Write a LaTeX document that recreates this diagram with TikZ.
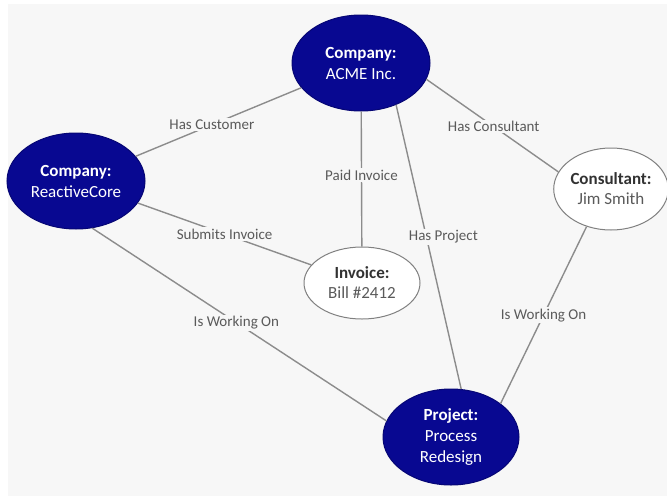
\documentclass[tikz,border=0pt]{standalone}
\usepackage{fontspec}
\setmainfont{Carlito}
\usetikzlibrary{shapes.geometric}
\definecolor{navyfill}{RGB}{8,8,145}
\definecolor{bgcol}{RGB}{247,247,247}
\definecolor{linecol}{RGB}{140,140,140}
\definecolor{lblcol}{RGB}{90,90,90}
\definecolor{headcol}{RGB}{50,50,50}

\begin{document}
\begin{tikzpicture}[x=1pt,y=-1pt,
        entity/.style={ellipse,draw=navyfill!80!black,line width=1pt,fill=navyfill,text=white,
            align=center,inner sep=0pt,font=\fontsize{17}{21}\selectfont},
        thing/.style={ellipse,draw=gray,line width=1pt,fill=white,text=lblcol,
            align=center,inner sep=0pt,font=\fontsize{17}{20}\selectfont},
        rel/.style={fill=bgcol,text=lblcol,inner sep=1.5pt,font=\fontsize{15}{15}\selectfont},
        link/.style={draw=linecol,line width=1.4pt}]
        \useasboundingbox (0,0) rectangle (667,498);
        \fill[white] (0,0) rectangle (667,498);
        \fill[bgcol] (8,4) rectangle (667,496);
        % entities
        \node[entity,minimum width=138pt,minimum height=96pt] (acme) at (361,63) {\textbf{Company:}\\ACME Inc.};
        \node[entity,minimum width=138pt,minimum height=96pt] (rc) at (76,181) {\textbf{Company:}\\ReactiveCore};
        \node[entity,minimum width=136pt,minimum height=96pt] (proj) at (451,437) {\textbf{Project:}\\Process\\Redesign};
        \node[thing,minimum width=110pt,minimum height=82pt] (cons) at (611,189) {\textcolor{headcol}{\textbf{Consultant:}}\\Jim Smith};
        \node[thing,minimum width=116pt,minimum height=72pt] (inv) at (362,283) {\textcolor{headcol}{\textbf{Invoice:}}\\Bill \#2412};
        % relations
        \draw[link] (rc) -- node[rel,pos=.46] {Has Customer} (acme);
        \draw[link] (acme) -- node[rel,pos=.47] {Paid Invoice} (inv);
        \draw[link] (acme.-50) -- node[rel,pos=.465,xshift=17pt] {Has Project} (proj.78);
        \draw[link] (acme.-14) -- node[rel,pos=.51] {Has Consultant} (cons.162);
        \draw[link] (rc) -- node[rel,pos=.5] {Submits Invoice} (inv);
        \draw[link] (rc.-71) -- node[rel,pos=.49] {Is Working On} (proj.166);
        \draw[link] (cons.-123) -- node[rel,pos=.5] {Is Working On} (proj.34);
    \end{tikzpicture}
\end{document}
